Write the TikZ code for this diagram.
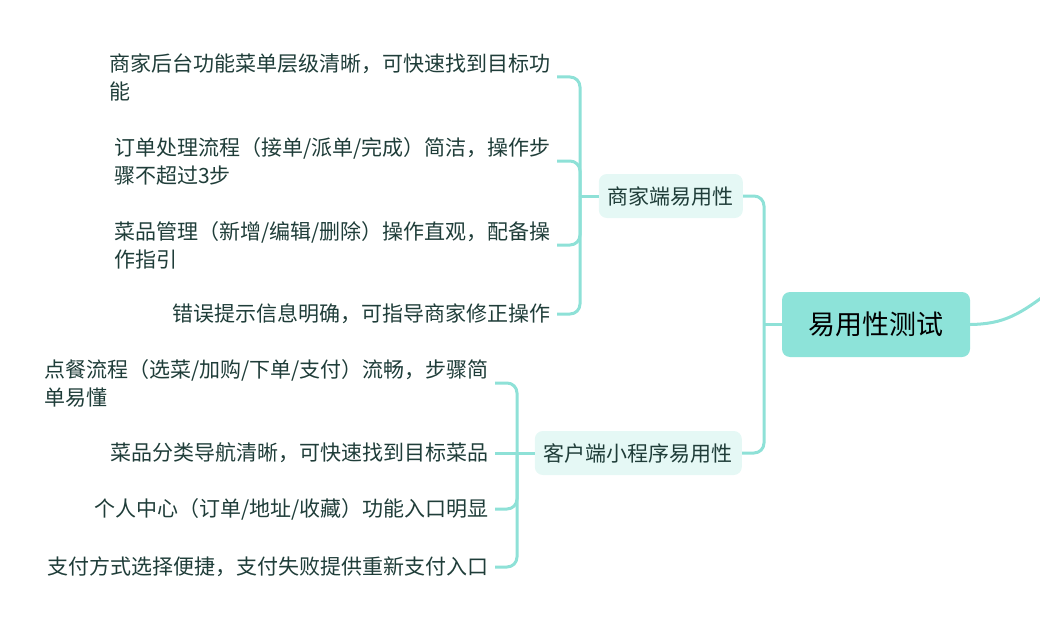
\documentclass[tikz,border=0pt]{standalone}
\usepackage{fontspec}
\setmainfont{Noto Sans CJK SC}
\usetikzlibrary{positioning}
\definecolor{linkteal}{HTML}{8EE1D7}
\definecolor{rootfill}{HTML}{8DE3D9}
\definecolor{branchfill}{HTML}{E5F8F5}
\definecolor{leaftext}{HTML}{1F3D39}

\begin{document}
\begin{tikzpicture}[x=1pt, y=-1pt,
  rootnode/.style={rectangle, rounded corners=8pt, fill=rootfill, minimum width=188pt, minimum height=65pt, font=\fontsize{27}{32}\selectfont, text=black},
  branchnode/.style={rectangle, rounded corners=8pt, fill=branchfill, inner xsep=9pt, minimum height=44pt, font=\fontsize{21}{26}\selectfont, text=leaftext, anchor=east},
  leafnode/.style={inner xsep=6pt, inner ysep=2pt, align=left, font=\fontsize{21}{28}\selectfont, text=leaftext, anchor=east},
  link/.style={draw=linkteal, line width=3pt, rounded corners=10pt}
]
\useasboundingbox (0,0) rectangle (1040,623);

%========== ROOT ==========
\node[rootnode] (root) at (876,324.5) {易用性测试};
\coordinate (tail) at (1052,290);
\draw[link] (root.east) .. controls (1005,324) and (1020,314) .. (tail);

%========== BRANCHES ==========
\node[branchnode] (merchant) at (743,196) {商家端易用性};
\node[branchnode] (client)   at (742,453) {客户端小程序易用性};

\coordinate (rootjoin) at (764,324.5);
\draw[link] (merchant.east) -| (rootjoin) |- (client.east);
\draw[link] (root.west) -- (rootjoin);

%========== MERCHANT LEAVES ==========
\node[leafnode] (m1) at (557,77)  {商家后台功能菜单层级清晰，可快速找到目标功\\能};
\node[leafnode] (m2) at (557,161) {订单处理流程（接单/派单/完成）简洁，操作步\\骤不超过3步};
\node[leafnode] (m3) at (557,245) {菜品管理（新增/编辑/删除）操作直观，配备操\\作指引};
\node[leafnode] (m4) at (557,314) {错误提示信息明确，可指导商家修正操作};

\coordinate (mjoin) at (580,196);
\draw[link] (merchant.west) -- (mjoin);
\foreach \leaf in {m1,m2,m3,m4}
  \draw[link] (mjoin) |- (\leaf.east);

%========== CLIENT LEAVES ==========
\node[leafnode] (c1) at (495,383) {点餐流程（选菜/加购/下单/支付）流畅，步骤简\\单易懂};
\node[leafnode] (c2) at (495,453) {菜品分类导航清晰，可快速找到目标菜品};
\node[leafnode] (c3) at (495,509) {个人中心（订单/地址/收藏）功能入口明显};
\node[leafnode] (c4) at (495,567) {支付方式选择便捷，支付失败提供重新支付入口};

\coordinate (cjoin) at (517,453);
\draw[link] (client.west) -- (c2.east);
\foreach \leaf in {c1,c3,c4}
  \draw[link] (cjoin) |- (\leaf.east);

\end{tikzpicture}
\end{document}
